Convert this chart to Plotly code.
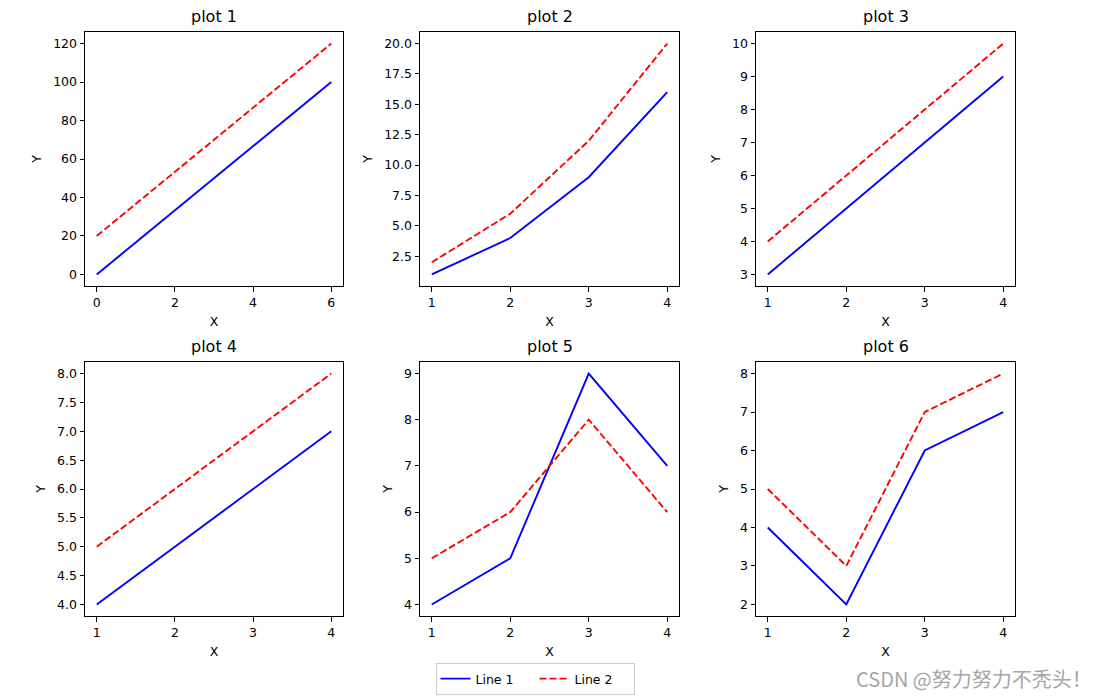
import plotly.graph_objects as go
from plotly.subplots import make_subplots

titles = ["plot 1", "plot 2", "plot 3", "plot 4", "plot 5", "plot 6"]
x1 = [0, 6]
x_rest = [1, 2, 3, 4]
line1_p1 = [0, 100]
line2_p1 = [20, 120]
line1_p2 = [1, 4, 9, 16]
line2_p2 = [2, 6, 12, 20]
line1_p3 = [3, 5, 7, 9]
line2_p3 = [4, 6, 8, 10]
line1_p4 = [4, 5, 6, 7]
line2_p4 = [5, 6, 7, 8]
line1_p5 = [4, 5, 9, 7]
line2_p5 = [5, 6, 8, 6]
line1_p6 = [4, 2, 6, 7]
line2_p6 = [5, 3, 7, 8]

xs = [x1, x_rest, x_rest, x_rest, x_rest, x_rest]
l1 = [line1_p1, line1_p2, line1_p3, line1_p4, line1_p5, line1_p6]
l2 = [line2_p1, line2_p2, line2_p3, line2_p4, line2_p5, line2_p6]

# page body has an 8px margin; compensate
OFF = 8
W, H = 1095 - OFF, 697 - OFF


def px_x(p):
    return (p - OFF) / W


def px_y(p):
    return 1 - (p - OFF) / H


fig = make_subplots(rows=2, cols=3)

FONT = "DejaVu Sans"
col_px = [(85, 343), (420, 679), (756, 1015)]
row_px = [(32, 286), (362, 616)]

yfmt = [None, ".1f", None, ".1f", None, None]
ydticks = [20, 2.5, 1, 0.5, 1, 1]
xdticks = [2, 1, 1, 1, 1, 1]

for i in range(6):
    r, c = i // 3 + 1, i % 3 + 1
    first = i == 0
    fig.add_trace(go.Scatter(x=xs[i], y=l1[i], mode="lines", name="Line 1",
                             line=dict(color="#0000ff", width=1.9),
                             legendgroup="l1", showlegend=first), row=r, col=c)
    fig.add_trace(go.Scatter(x=xs[i], y=l2[i], mode="lines", name="Line 2",
                             line=dict(color="#ff0000", width=1.9, dash="7px,3px"),
                             legendgroup="l2", showlegend=first), row=r, col=c)
    xmin, xmax = min(xs[i]), max(xs[i])
    ymin = min(min(l1[i]), min(l2[i]))
    ymax = max(max(l1[i]), max(l2[i]))
    mx = (xmax - xmin) * 0.05
    my = (ymax - ymin) * 0.05
    x0p, x1p = col_px[c - 1]
    y0p, y1p = row_px[r - 1]
    axcommon = dict(showline=True, mirror=True, linecolor="black", linewidth=1,
                    ticks="outside", ticklen=4.5, tickwidth=1, tickcolor="black",
                    showgrid=False, zeroline=False,
                    tickfont=dict(family=FONT, size=12.5, color="black"))
    fig.update_xaxes(row=r, col=c, range=[xmin - mx, xmax + mx],
                     domain=[px_x(x0p), px_x(x1p)], dtick=xdticks[i], tick0=0,
                     title=dict(text="X", font=dict(family=FONT, size=12.5, color="black"), standoff=8),
                     **axcommon)
    yopts = dict(range=[ymin - my, ymax + my], domain=[px_y(y1p), px_y(y0p)],
                 dtick=ydticks[i], tick0=0,
                 title=dict(text="Y", font=dict(family=FONT, size=12.5, color="black"), standoff=8))
    if yfmt[i]:
        yopts["tickformat"] = yfmt[i]
    fig.update_yaxes(row=r, col=c, **yopts, **axcommon)
    fig.add_annotation(text=titles[i], xref="paper", yref="paper",
                       x=px_x((x0p + x1p) / 2), y=px_y(y0p), yshift=4,
                       xanchor="center", yanchor="bottom", showarrow=False,
                       font=dict(family=FONT, size=16, color="black"))

fig.add_annotation(text="CSDN @努力努力不秃头！", xref="paper", yref="paper",
                   x=px_x(1094), y=px_y(678), xanchor="right", yanchor="middle",
                   showarrow=False,
                   font=dict(family="Noto Sans CJK SC", size=20, color="#a6a6a6"))

fig.update_layout(
    width=W, height=H,
    margin=dict(l=0, r=0, t=0, b=0),
    paper_bgcolor="white", plot_bgcolor="white",
    font=dict(family=FONT, color="black"),
    legend=dict(orientation="h", x=px_x(535), xanchor="center",
                y=px_y(663), yanchor="top",
                bgcolor="white", bordercolor="#cccccc", borderwidth=1,
                font=dict(family=FONT, size=12.5, color="black"),
                itemwidth=30, entrywidth=54, tracegroupgap=0),
)

fig.write_html("out.html")
